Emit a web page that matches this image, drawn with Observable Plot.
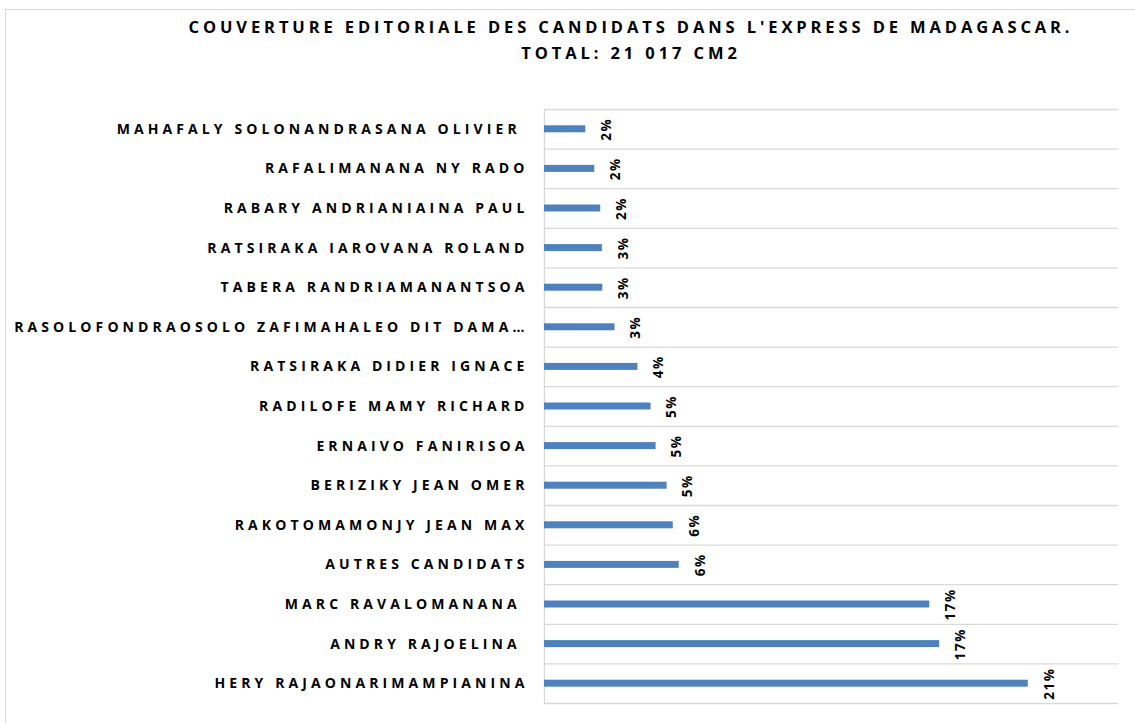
<!DOCTYPE html>
<html>
<head>
<meta charset="utf-8">
<script src="https://cdn.jsdelivr.net/npm/d3@7"></script>
<script src="https://cdn.jsdelivr.net/npm/@observablehq/plot@0.6"></script>
<style>
  body { margin: 0; background: #fff; font-family: "Open Sans", sans-serif; }
  #frame { position: absolute; left: 5px; top: 9px; width: 1300px; height: 900px; border: 1px solid #d9d9d9; box-sizing: border-box; }
  #chart { position: relative; width: 1135px; }
  #title { height: 80px; box-sizing: border-box; padding-top: 14px; padding-left: 127px; text-align: center;
           font-weight: 700; font-size: 16.5px; line-height: 25.5px; letter-spacing: 3.9px; color: #000; white-space: nowrap; }
  svg text { white-space: pre; }
</style>
</head>
<body>
<div id="frame"></div>
<div id="chart">
  <div id="title">COUVERTURE EDITORIALE DES CANDIDATS DANS L'EXPRESS DE MADAGASCAR.<br>TOTAL: 21 017 CM2</div>
</div>
<script>
// Categories, top to bottom
const candidats = [
  "MAHAFALY SOLONANDRASANA OLIVIER\u00A0",
  "RAFALIMANANA NY RADO",
  "RABARY ANDRIANIAINA PAUL",
  "RATSIRAKA IAROVANA ROLAND",
  "TABERA RANDRIAMANANTSOA",
  "RASOLOFONDRAOSOLO ZAFIMAHALEO DIT DAMA…",
  "RATSIRAKA DIDIER IGNACE",
  "RADILOFE MAMY RICHARD",
  "ERNAIVO FANIRISOA",
  "BERIZIKY JEAN OMER",
  "RAKOTOMAMONJY JEAN MAX",
  "AUTRES CANDIDATS",
  "MARC RAVALOMANANA\u00A0",
  "ANDRY RAJOELINA\u00A0",
  "HERY RAJAONARIMAMPIANINA"
];
// Share of editorial coverage (%)
const parts = [1.80, 2.19, 2.45, 2.52, 2.54, 3.07, 4.07, 4.64, 4.86, 5.34, 5.61, 5.87, 16.78, 17.21, 21.07];
// Labels shown next to bars
const etiquettes = ["2%", "2%", "2%", "3%", "3%", "3%", "4%", "5%", "5%", "5%", "6%", "6%", "17%", "17%", "21%"];

const data = candidats.map((c, i) => ({candidat: c, part: parts[i], label: etiquettes[i]}));

const W = 1135, H = 643, MT = 29, MB = 20, ML = 544, MR = 17;
const bw = (H - MT - MB) / candidats.length;

const chart = Plot.plot({
  width: W, height: H,
  marginTop: MT, marginBottom: MB, marginLeft: ML, marginRight: MR,
  style: {fontFamily: "'Open Sans', sans-serif", fontSize: "14px", color: "#000", background: "transparent", overflow: "visible"},
  x: {domain: [0, 25], axis: null},
  y: {domain: candidats, padding: 0, round: false, axis: null},
  marks: [
    Plot.ruleY(candidats, {y: d => d, dy: -bw / 2, stroke: "#d9d9d9", strokeWidth: 1.3}),
    Plot.ruleY([candidats[candidats.length - 1]], {y: d => d, dy: bw / 2, stroke: "#d9d9d9", strokeWidth: 1.3}),
    Plot.ruleX([0], {stroke: "#d9d9d9", strokeWidth: 1.3}),
    Plot.barX(data, {y: "candidat", x: "part", fill: "#4f81bd", insetTop: 16.3, insetBottom: 16.3}),
    Plot.text(data, {y: "candidat", x: "part", text: "label", rotate: -90, dx: 21,
      fontWeight: "bold", fontSize: 13.5, fill: "#000", textAnchor: "middle", lineAnchor: "middle"}),
    Plot.axisY({tickSize: 0, tickPadding: 16, fontWeight: "bold", fontSize: 14, fill: "#000", label: null})
  ]
});
chart.querySelectorAll("g[aria-label='y-axis tick label'] text").forEach(t => t.style.letterSpacing = "4.1px");
chart.querySelectorAll("g[aria-label='text'] text").forEach(t => t.style.letterSpacing = "1.5px");
document.getElementById("chart").appendChild(chart);
</script>
</body>
</html>
